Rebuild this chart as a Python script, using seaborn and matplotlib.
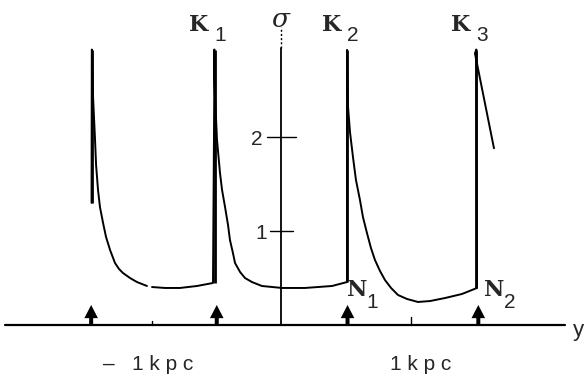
import matplotlib
matplotlib.use("Agg")
import matplotlib.pyplot as plt
import seaborn as sns
import pandas as pd

sns.set_theme(style="white")
plt.rcParams["font.family"] = ["Liberation Sans", "DejaVu Sans"]

# surface density profile sigma(y), y in kpc
# short first branch (left spike and its decay)
branch1_x = [-1.467, -1.465, -1.463, -1.456, -1.440, -1.432, -1.417, -1.402, -1.378, -1.355,
             -1.324, -1.286, -1.255, -1.224, -1.170, -1.116, -1.039]
branch1_y = [1.30, 2.93, 2.926, 2.447, 1.968, 1.702, 1.436, 1.255, 1.085, 0.936,
             0.798, 0.660, 0.596, 0.553, 0.500, 0.457, 0.415]

# main branch: floor, jump at K1, decay, floor, jump at K2, decay, floor, jump at K3
branch2_x = [-1.000, -0.900, -0.784, -0.653, -0.529, -0.517,
             -0.521, -0.514, -0.498, -0.475, -0.459, -0.436, -0.413, -0.398, -0.375, -0.359,
             -0.320, -0.282, -0.228, -0.151, 0.004, 0.181, 0.390, 0.506,
             0.506, 0.514, 0.529, 0.552, 0.575, 0.606, 0.629, 0.660, 0.691, 0.722,
             0.761, 0.799, 0.846, 0.900, 0.969, 1.054, 1.147, 1.263, 1.394, 1.510,
             1.505, 1.494, 1.641]
branch2_y = [0.404, 0.394, 0.394, 0.415, 0.447, 2.93,
             2.926, 2.447, 1.968, 1.617, 1.436, 1.255, 1.064, 0.904, 0.766, 0.660,
             0.564, 0.500, 0.457, 0.415, 0.394, 0.394, 0.415, 0.457,
             2.926, 2.319, 2.053, 1.787, 1.543, 1.330, 1.149, 0.979, 0.819, 0.691,
             0.574, 0.479, 0.394, 0.319, 0.277, 0.245, 0.255, 0.287, 0.330, 0.394,
             2.93, 2.89, 1.88]

# jump positions (K1, K2, K3) and their lower ends (N points)
jump_x = [-0.517, 0.506, 1.505]
jump_lo = [0.447, 0.457, 0.394]
spike_top = 2.93

# arrows marking the arm positions
arrow_x = [-1.47, -0.50, 0.51, 1.52]

# axis ticks and labels
ytick_vals = [1, 2]
ytick_labels = ["1", "2"]
xtick_vals = [-1, 1]
xtick_labels = ["–   1 k p c", "1 k p c"]

k_labels = ["1", "2", "3"]
n_labels = ["1", "2"]

fig = plt.figure(figsize=(5.85, 3.77), dpi=100)
ax = fig.add_axes([0, 0, 1, 1])
ax.set_xlim(-2.174, 2.344)
ax.set_ylim(-0.553, 3.457)
ax.axis("off")

# profile curves
for bx, by in [(branch1_x, branch1_y), (branch2_x, branch2_y)]:
    df = pd.DataFrame({"y": bx, "sigma": by})
    sns.lineplot(data=df, x="y", y="sigma", sort=False, estimator=None,
                 color="black", lw=1.4, ax=ax)

# thicker strokes on the jumps
for jx, lo in zip([branch1_x[0]] + jump_x, [branch1_y[0]] + jump_lo):
    ax.plot([jx, jx], [lo, spike_top], color="black", lw=2.0, solid_capstyle="butt")

# axes
ax.plot([-2.135, 2.19], [0, 0], color="black", lw=1.6)
ax.plot([0, 0], [0, 2.95], color="black", lw=1.3)
ax.plot([0, 0], [2.95, 3.17], color="black", lw=1.0, ls=(0, (1.5, 1.5)))

# y ticks
for v, lab, half in zip(ytick_vals, ytick_labels, [0.085, 0.115]):
    ax.plot([-half, half], [v, v], color="black", lw=1.0)
    ax.text(-half - 0.03, v - 0.03, lab, ha="right", va="center", fontsize=15)

# x ticks
for v, ln in zip(xtick_vals, [0.04, 0.08]):
    ax.plot([v, v], [0, ln], color="black", lw=1.0)
xtext_left = [-1.375, 0.838]
for xl, lab in zip(xtext_left, xtick_labels):
    ax.text(xl, -0.415, lab, ha="left", va="center", fontsize=15)

# arrows
for axx in arrow_x:
    ax.arrow(axx, 0, 0, 0.213, width=0.031, head_width=0.105, head_length=0.14,
             length_includes_head=True, color="black", lw=0)

# K labels
serif = ["DejaVu Serif"]
for jx, sub in zip(jump_x, k_labels):
    ax.text(jx - 0.12, 3.19, "K", ha="center", va="center", fontsize=16,
            fontweight="bold", family=serif)
    ax.text(jx + 0.045, 3.075, sub, ha="center", va="center", fontsize=15)

# N labels
for jx, sub, dx in zip(jump_x[1:], n_labels, [0.0, 0.06]):
    ax.text(jx + 0.08 + dx, 0.37, "N", ha="center", va="center", fontsize=16,
            fontweight="bold", family=serif)
    ax.text(jx + 0.195 + dx, 0.24, sub, ha="center", va="center", fontsize=15)

# axis names
ax.text(-0.012, 3.245, "σ", ha="center", va="center", fontsize=19,
        fontstyle="italic", family=["DejaVu Serif"])
ax.text(2.29, -0.06, "y", ha="center", va="center", fontsize=16)

fig.savefig("out.png", dpi=100)
